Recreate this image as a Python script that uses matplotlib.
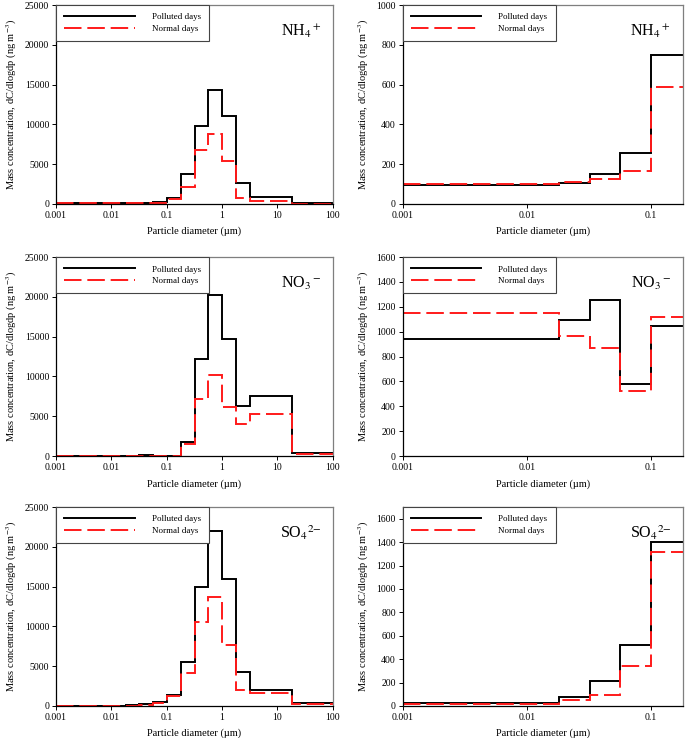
import matplotlib
matplotlib.use('Agg')
import matplotlib.pyplot as plt
from matplotlib.ticker import FixedLocator, FuncFormatter

plt.rcParams['font.family'] = ['Liberation Serif', 'DejaVu Serif']
plt.rcParams['mathtext.fontset'] = 'stix'

# bin edges of the impactor stages (um)
edges = [0.001, 0.018, 0.032, 0.056, 0.1, 0.18, 0.32, 0.56, 1.0, 1.8, 3.2, 18, 100]
fine_edges = [0.001, 0.018, 0.032, 0.056, 0.1, 0.18]

# full size range (left column)
nh4_polluted = [97, 105, 152, 255, 748, 3770, 9840, 14280, 11050, 2680, 920, 70]
nh4_normal = [100, 110, 125, 165, 590, 2090, 6740, 8840, 5360, 710, 420, 60]

no3_polluted = [50, 50, 80, 40, 60, 1800, 12230, 20210, 14750, 6350, 7600, 420]
no3_normal = [60, 50, 50, 30, 60, 1550, 7190, 10210, 6180, 3990, 5340, 210]

so4_polluted = [28, 77, 213, 518, 1400, 5580, 14950, 21950, 15960, 4270, 1970, 420]
so4_normal = [20, 54, 97, 344, 1315, 4190, 10600, 13700, 7620, 2060, 1630, 210]

# ultrafine stages (right column)
nh4_fine_polluted = [97, 105, 152, 255, 748]
nh4_fine_normal = [100, 110, 125, 165, 590]

no3_fine_polluted = [941, 1094, 1258, 583, 1048]
no3_fine_normal = [1150, 968, 868, 524, 1118]

so4_fine_polluted = [28, 77, 213, 518, 1400]
so4_fine_normal = [20, 54, 97, 344, 1315]

species = [r'NH$_4$$^+$', r'NO$_3$$^-$', r'SO$_4$$^{2\mathrm{-}}$']
polluted = [nh4_polluted, no3_polluted, so4_polluted]
normal = [nh4_normal, no3_normal, so4_normal]
fine_polluted = [nh4_fine_polluted, no3_fine_polluted, so4_fine_polluted]
fine_normal = [nh4_fine_normal, no3_fine_normal, so4_fine_normal]

# zoomed (right column) y ranges and ticks
right_ylim = [1000, 1600, 1700]
right_yticks = [range(0, 1001, 200), range(0, 1601, 200), range(0, 1601, 200)]

fig = plt.figure(figsize=(6.85, 7.38), dpi=100)

row_bottoms = [0.7236, 0.382, 0.0434]
h = 0.2696

def fmt_x(v, pos):
    return ('%g' % v)

def style(ax):
    ax.set_xscale('log')
    for s in ['left', 'bottom']:
        ax.spines[s].set_color('black')
        ax.spines[s].set_linewidth(0.9)
    for s in ['top', 'right']:
        ax.spines[s].set_color('#7f7f7f')
        ax.spines[s].set_linewidth(0.9)
    ax.tick_params(direction='out', length=3, width=0.7, labelsize=7, pad=2)
    ax.xaxis.set_minor_locator(FixedLocator([]))
    ax.xaxis.set_major_formatter(FuncFormatter(fmt_x))
    ax.set_xlabel('Particle diameter (µm)', fontsize=7.5, labelpad=5)
    ax.set_ylabel('Mass concentration, dC/dlogdp (ng m$^{-3}$)', fontsize=7.5, labelpad=4)

for i in range(3):
    for j in range(2):
        if j == 0:
            ax = fig.add_axes([0.0818, row_bottoms[i], 0.404, h])
            ax.stairs(polluted[i], edges, baseline=None, color='black', lw=1.4,
                      label='Polluted days')
            ax.stairs(normal[i], edges, baseline=None, color='#ff1a1a', lw=1.4,
                      linestyle=(0, (9, 3)), label='Normal days')
        else:
            ax = fig.add_axes([0.588, row_bottoms[i], 0.409, h])
            ax.stairs(fine_polluted[i], fine_edges, baseline=None, color='black', lw=1.4,
                      label='Polluted days')
            ax.stairs(fine_normal[i], fine_edges, baseline=None, color='#ff1a1a', lw=1.4,
                      linestyle=(0, (9, 3)), label='Normal days')
        style(ax)
        if j == 0:
            ax.set_xlim(0.001, 100)
            ax.set_ylim(0, 25000)
            ax.xaxis.set_major_locator(FixedLocator([0.001, 0.01, 0.1, 1, 10, 100]))
            ax.yaxis.set_major_locator(FixedLocator(range(0, 25001, 5000)))
        else:
            ax.set_xlim(0.001, 0.18)
            ax.set_ylim(0, right_ylim[i])
            ax.xaxis.set_major_locator(FixedLocator([0.001, 0.01, 0.1]))
            ax.yaxis.set_major_locator(FixedLocator(list(right_yticks[i])))
        leg = ax.legend(loc='upper left', bbox_to_anchor=(0, 1), borderaxespad=0,
                        fontsize=6.5, handlelength=7.8, handletextpad=1.9,
                        labelspacing=0.35, borderpad=0.9, fancybox=False,
                        edgecolor='#444444', framealpha=1)
        leg.get_frame().set_linewidth(0.8)
        ax.text(0.885, 0.87, species[i], transform=ax.transAxes, ha='center',
                va='center', fontsize=11.5)

fig.savefig('out.png', dpi=100)
